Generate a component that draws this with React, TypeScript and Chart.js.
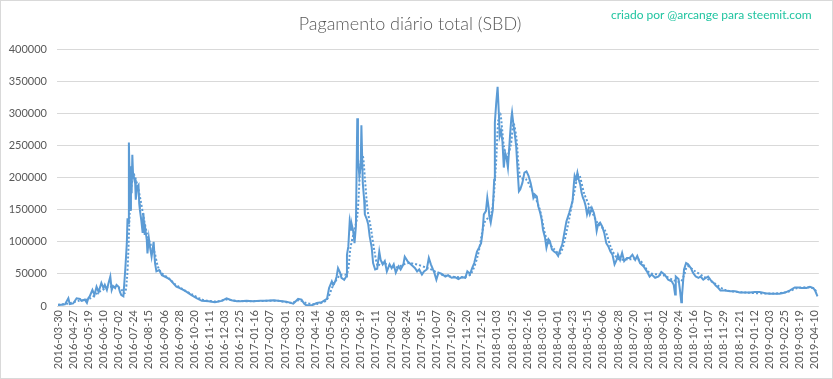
import React, { useEffect, useRef } from "react";
import { Chart, registerables } from "chart.js";

Chart.register(...registerables);

// Category tick labels (one every 22 daily categories)
const tickLabels: string[] = [
  "2016-03-30", "2016-04-27", "2016-05-19", "2016-06-10", "2016-07-02", "2016-07-24", "2016-08-15",
  "2016-09-06", "2016-09-28", "2016-10-20", "2016-11-11", "2016-12-03", "2016-12-25", "2017-01-16",
  "2017-02-07", "2017-03-01", "2017-03-23", "2017-04-14", "2017-05-06", "2017-05-28", "2017-06-19",
  "2017-07-11", "2017-08-02", "2017-08-24", "2017-09-15", "2017-10-07", "2017-10-29", "2017-11-20",
  "2017-12-12", "2018-01-03", "2018-01-25", "2018-02-16", "2018-03-10", "2018-04-01", "2018-04-23",
  "2018-05-15", "2018-06-06", "2018-06-28", "2018-07-20", "2018-08-11", "2018-09-02", "2018-09-24",
  "2018-10-16", "2018-11-07", "2018-11-29", "2018-12-21", "2019-01-12", "2019-02-03", "2019-02-25",
  "2019-03-19", "2019-04-10",
];
const TICK_STEP = 22;

// Daily payout (SBD): category index (days from first category) and value
const dayIndex: number[] = [
  0, 5, 10, 15, 17, 22, 27, 32, 34, 39, 42, 44, 46, 50, 53, 56, 59, 63, 66, 68, 71, 73, 76, 78, 80, 83, 85, 88, 90, 92, 95,
  98, 100, 101, 102, 103, 104, 105, 106, 107, 108, 109, 110, 112, 113, 115, 117, 118, 119, 121, 123, 124, 126, 127, 129,
  130, 132, 134, 136, 139, 140, 141, 143, 147, 151, 155, 160, 163, 168, 172, 177, 182, 187, 194, 202, 209, 219, 228, 238,
  245, 252, 260,
  265, 274, 284, 294, 303, 313, 323, 332, 342, 349, 354, 358, 361, 369, 376, 383, 389, 391, 394, 398, 400, 403, 405, 407,
  410, 412, 416, 419, 420, 422, 424, 426, 427, 429, 431, 433, 435, 436, 438, 440, 441, 443, 445, 446, 449, 451, 453, 456,
  458, 461, 464, 467, 469, 472, 475, 478, 482, 485, 488, 491, 495, 498, 502, 504, 508, 512, 516, 519, 522, 525, 529, 532,
  536, 539, 542, 545, 547,
  550, 553, 558, 563, 567, 572, 577, 582, 587, 592, 595, 599, 602, 605, 609, 612, 615, 617, 619, 622, 624, 626, 627, 629,
  632, 634, 635, 637, 639, 641, 642, 644, 646, 648, 650, 652, 654, 657, 659, 660, 662, 664, 666, 668, 670, 672, 675, 678,
  681, 684, 687, 689, 691, 693, 696, 698, 701, 703, 705, 708, 710, 713, 715, 718, 721, 724, 727, 730, 733, 736, 739, 743,
  746, 748, 750, 751, 753, 755, 757, 759, 761, 763, 765, 767, 769, 771, 773, 776, 779, 781, 783, 785, 788, 791, 794, 797,
  800, 803, 806, 809, 812, 814, 817, 820, 823, 827,
  831, 835, 839, 842, 846, 851, 856, 860, 863, 868, 873, 877, 882, 887, 892, 895, 897, 898, 902, 904, 906, 907, 910, 913,
  916, 920, 923, 927, 931, 934, 938, 942, 945, 949, 953, 956, 960, 963, 969, 977, 984, 991, 999, 1006, 1013, 1020, 1028,
  1035, 1042, 1049, 1057, 1064, 1071, 1076, 1081, 1088, 1093, 1098, 1101, 1104,
];
const payout: number[] = [
  1500, 2000, 2500, 12000, 3000, 4000, 12000, 11000, 8000, 10000, 5000, 12000, 15000, 25000, 17000, 30000, 22000, 36000,
  28000, 33000, 25000, 34000, 46000, 25000, 31000, 28000, 33000, 30000, 22000, 17000, 15000,
  61000, 98000, 137000, 129000, 255000, 202000, 150000, 218000, 176000, 236000, 207000, 202000, 197000, 166000, 186000,
  189000, 160000, 150000, 134000, 114000, 145000, 111000, 119000, 103000,
  82000, 106000, 90000, 77000, 100000, 82000, 67000, 54000, 56000, 48000, 46000, 43000, 41000, 35000, 30000, 28000, 25000,
  22000, 17000, 12000, 8000, 7300, 6000, 8000,
  12000, 9000, 7300,
  7300, 8300, 7300, 8300, 8300, 8900, 7800, 6800, 3600, 11000, 10000, 3600, 1000, 1000, 4700, 5700, 10000, 11000, 28000,
  38500, 33000, 38500, 46000, 59000,
  52000, 44000, 41000, 46000, 80000, 93000, 132000, 119000, 127000, 117000, 98000, 124000, 293000, 229000, 203000, 218000,
  282000, 192000, 166000, 143000, 135000, 127000, 109000, 91000,
  67000, 57000, 58000, 85000, 72000, 65000, 70000, 54000, 65000, 59000, 65000, 52000, 62000, 57000, 65000, 77000, 70000,
  66000, 62000, 59000, 54000, 57000, 49000, 54000,
  57000, 75000, 65000, 57000, 52000,
  41000, 52000, 50000, 46000, 48000, 44000, 45000, 42000, 45000, 44000, 54000, 50000, 59000, 67000, 85000, 91000, 98000,
  114000, 143000, 148000, 169000, 153000, 140000, 130000,
  150000, 197000, 286000, 317000, 342000, 296000, 265000, 273000, 257000, 216000, 239000, 231000, 216000, 265000, 294000,
  302000, 283000, 268000, 249000, 213000, 179000, 182000, 192000, 208000,
  210000, 203000, 192000, 182000, 169000, 174000, 171000, 156000, 145000, 135000, 119000, 106000, 91000, 104000, 101000,
  88000, 85000, 83000, 78000, 88000, 96000, 114000, 132000, 145000,
  156000, 164000, 192000, 203000, 197000, 208000, 197000, 190000, 177000, 169000, 164000, 156000, 143000, 151000, 143000,
  153000, 145000, 135000, 117000, 127000, 130000, 124000, 114000, 98000,
  93000, 85000, 80000, 65000, 72000, 80000, 72000, 83000, 70000, 75000,
  75000, 80000, 72000, 78000, 67000, 62000, 54000, 46000, 49000, 44000, 46000, 53000, 49000, 41000, 38500, 33000, 18000,
  46000, 42000, 25500, 5700, 15000, 57000, 67000,
  65000, 59000, 52000, 46000, 44000, 46000, 41000, 44000, 46000, 40000, 36000, 32000, 28000, 24000, 24000, 23000, 23000,
  21000, 21000, 21000, 22000, 22000, 20000,
  19000, 19000, 19000, 21000, 24500, 29000, 29000, 28000, 28000, 30000, 28000, 23000, 15000,
];

// Moving-average trend line (dotted)
const trendIndex: number[] = [
  0, 15, 30, 45, 60, 75, 90, 97, 100, 102, 104, 106, 110, 115, 120, 125, 130, 135, 140, 145, 150, 160, 170, 180, 195, 210,
  230, 245, 260, 280, 300, 320, 340, 350, 360, 375, 390, 400, 410, 420, 425, 430, 435, 440, 443, 446, 450, 455, 460, 465,
  470, 490, 510, 540, 560, 590, 600, 610, 620, 630, 636, 640, 643, 648, 652, 658, 662, 666, 672, 680, 690, 700, 710, 720,
  730, 740, 750, 757, 765, 775, 785, 795, 805, 815, 830, 845, 860, 880, 895, 905, 910, 915, 925, 940, 955, 970, 1000, 1040,
  1060, 1075, 1095, 1104,
];
const trendValues: number[] = [
  2000, 4000, 8000, 11000, 22000, 30000, 28000, 20000, 40000, 80000, 140000, 180000, 205000, 190000, 165000, 135000,
  110000, 95000, 85000, 62000, 52000, 44000, 34000, 27000, 18000, 10000, 7000, 10000, 8000, 7500, 8000, 8000, 5000, 9000,
  5000, 3000, 9000, 32000, 48000, 50000, 90000, 115000, 140000, 225000, 235000, 200000, 150000, 120000, 85000, 62000,
  68000, 60000, 67000, 58000, 48000, 45000, 50000, 78000, 130000, 145000, 210000, 290000, 300000, 250000, 232000, 250000,
  285000, 265000, 200000, 198000, 178000, 152000, 105000, 90000, 82000, 120000, 175000, 205000, 175000, 150000, 128000,
  118000, 88000, 73000, 73000, 72000, 52000, 48000, 40000, 38000, 48000, 62000, 55000, 45000, 35000, 25000, 21000, 19500,
  22000, 28000, 28500, 22000,
];

const TITLE = "Pagamento diário total (SBD)";
const CREDIT = "criado por @arcange para steemit.com";

export default function App() {
  const canvasRef = useRef<HTMLCanvasElement | null>(null);

  useEffect(() => {
    document.body.style.margin = "0";
    const canvas = canvasRef.current;
    if (!canvas) return;
    const blue = "#5b9bd5";
    const chart = new Chart(canvas, {
      type: "line",
      data: {
        datasets: [
          {
            label: "Pagamento",
            data: dayIndex.map((d, i) => ({ x: d, y: payout[i] })),
            borderColor: blue,
            borderWidth: 2,
            pointRadius: 0,
            tension: 0,
            fill: false,
          },
          {
            label: "Média móvel",
            data: trendIndex.map((d, i) => ({ x: d, y: trendValues[i] })),
            borderColor: blue,
            borderWidth: 2,
            borderDash: [2, 2],
            pointRadius: 0,
            tension: 0.3,
            fill: false,
          },
        ],
      },
      options: {
        responsive: false,
        animation: false,
        layout: { padding: { left: 0, right: 13, top: 0, bottom: 0 } },
        plugins: {
          legend: { display: false },
          tooltip: { enabled: false },
          title: {
            display: true,
            text: TITLE,
            color: "#595959",
            font: { family: "Lato", size: 18, weight: "300" },
            padding: { top: 12, bottom: 15 },
          },
        },
        scales: {
          x: {
            type: "linear",
            min: -1.5,
            max: 1106,
            grid: { display: false, drawTicks: false },
            border: { display: false },
            afterBuildTicks: (s: any) => {
              s.ticks = tickLabels.map((_, i) => ({ value: i * TICK_STEP }));
            },
            afterFit: (s: any) => {
              s.height = 72;
            },
            ticks: {
              autoSkip: false,
              maxRotation: 90,
              minRotation: 90,
              padding: 4,
              color: "#595959",
              font: { family: "Lato", size: 11 },
              callback: (_v: any, index: number) => tickLabels[index] ?? "",
            },
          },
          y: {
            min: 0,
            max: 400000,
            grid: { color: "#d9d9d9", lineWidth: 1, drawTicks: false },
            border: { display: false },
            afterFit: (s: any) => {
              s.width = 56;
            },
            ticks: {
              stepSize: 50000,
              padding: 10,
              color: "#595959",
              font: { family: "Lato", size: 11 },
              callback: (v: any) => String(v),
            },
          },
        },
      },
    });
    return () => chart.destroy();
  }, []);

  return (
    <div
      style={{
        position: "fixed",
        left: 0,
        top: 0,
        width: 833,
        height: 379,
        boxSizing: "border-box",
        border: "1px solid #d9d9d9",
        background: "#ffffff",
      }}
    >
      <canvas ref={canvasRef} width={831} height={377} style={{ width: 831, height: 377, display: "block" }} />
      <div
        style={{
          position: "absolute",
          left: 610,
          top: 6,
          color: "#20c4a0",
          fontFamily: "Lato, sans-serif",
          fontSize: 12,
          lineHeight: "15px",
          whiteSpace: "nowrap",
        }}
      >
        {CREDIT}
      </div>
    </div>
  );
}
